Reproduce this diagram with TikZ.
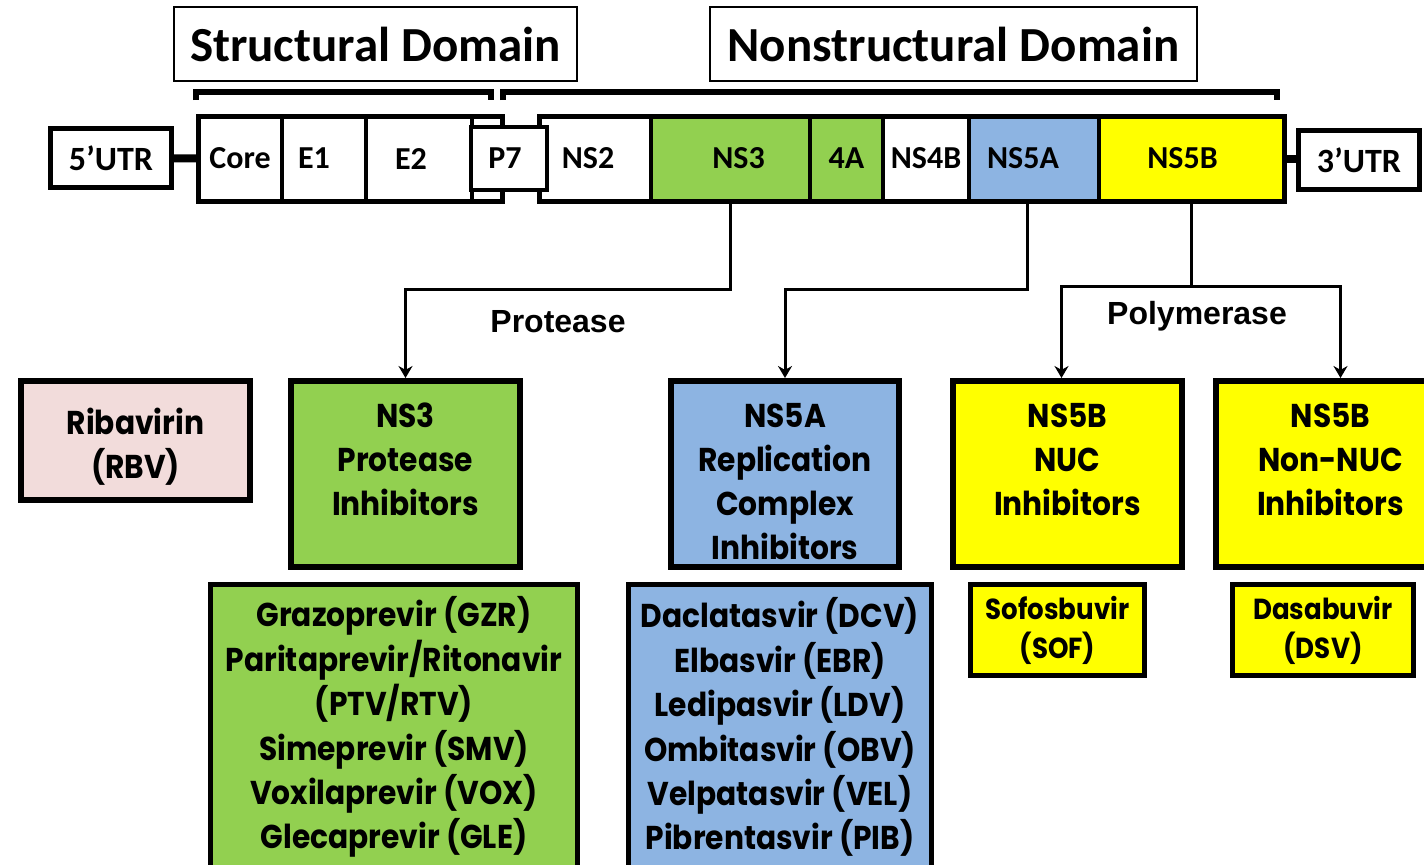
\documentclass[tikz,border=0pt]{standalone}
\usepackage{fontspec}
\setmainfont{Carlito}
\newfontfamily\drugfont[FakeStretch=0.9]{Poppins}
\newfontfamily\enzfont{Liberation Sans}
\usepackage{tikz}
\usetikzlibrary{shapes.geometric, arrows.meta, positioning}

\definecolor{nsgreen}{HTML}{92D050}
\definecolor{nsblue}{HTML}{8DB4E2}
\definecolor{nsyellow}{HTML}{FFFF00}
\definecolor{rbvpink}{HTML}{F2DCDB}

\tikzstyle{domainbox} = [rectangle, draw=black, line width=0.8pt, fill=white, inner sep=0pt, minimum height=37pt, font=\bfseries\fontsize{24.5}{28}\selectfont]
\tikzstyle{utr} = [rectangle, draw=black, line width=2.5pt, fill=white, inner sep=0pt, minimum width=60.5pt, minimum height=29.5pt, font=\bfseries\fontsize{17}{20}\selectfont]
\tikzstyle{seg} = [rectangle, draw=black, line width=2pt, fill=white, inner sep=0pt, outer sep=0pt, minimum height=42.5pt, font=\bfseries\fontsize{16}{19}\selectfont]
\tikzstyle{genome} = [rectangle, draw=black, line width=2.5pt, inner sep=0pt, outer sep=0pt, minimum height=42.5pt]
\tikzstyle{target} = [rectangle, draw=black, line width=3pt, inner sep=0pt, minimum width=114.5pt, minimum height=93pt, font=\drugfont\bfseries\fontsize{16.5}{22}\selectfont]
\tikzstyle{druglist} = [rectangle, draw=black, line width=2.5pt, inner sep=0pt, minimum height=142.75pt, align=center, font=\drugfont\bfseries\fontsize{16.5}{22.2}\selectfont]
\tikzstyle{drug} = [rectangle, draw=black, line width=2.5pt, fill=nsyellow, inner sep=0pt, minimum height=45.5pt, align=center, font=\drugfont\bfseries\fontsize{14.5}{19.5}\selectfont]
\tikzstyle{enzyme} = [font=\enzfont\bfseries\fontsize{16}{19}\selectfont]
\tikzstyle{arrow} = [line width=1.5pt,->,>={Stealth[length=6pt,width=7pt]}]
\tikzstyle{bracket} = [line width=3pt]

\newcommand{\toptext}[1]{\parbox[c][93pt][t]{112pt}{\centering\vspace*{8pt}\strut#1}}

\begin{document}
\begin{tikzpicture}[x=0.5pt, y=-0.5pt]
\useasboundingbox (0,0) rectangle (1424,864);

% domains
\node (sdom) [domainbox, minimum width=201.5pt] at (375.5,44) {Structural Domain};
\node (ndom) [domainbox, minimum width=243.5pt] at (953.5,44) {Nonstructural Domain};
\draw [bracket] (196,100) -- (196,92) -- (491,92) -- (491,100);
\draw [bracket] (503,100) -- (503,92) -- (1277,92) -- (1277,100);

% genome
\node (core) [seg, minimum width=42pt] at (240,158.5) {Core};
\node (e1) [seg, minimum width=42pt, right=0pt of core] {E1\kern10pt};
\node (e2) [seg, minimum width=53pt, right=0pt of e1] {E2\kern8pt};
\node (sblock) [genome, minimum width=152pt] at (350,158.5) {};
\node (ns2) [seg, minimum width=56pt] at (595,158.5) {NS2\kern7pt};
\node (ns3) [seg, fill=nsgreen, minimum width=79.5pt, right=0pt of ns2] {\kern8pt NS3};
\node (ns4a) [seg, fill=nsgreen, minimum width=36.5pt, right=0pt of ns3] {4A};
\node (ns4b) [seg, minimum width=43pt, right=0pt of ns4a] {NS4B};
\node (ns5a) [seg, fill=nsblue, minimum width=65pt, right=0pt of ns4b] {NS5A\kern11pt};
\node (ns5b) [seg, fill=nsyellow, minimum width=92.5pt, right=0pt of ns5a] {NS5B\kern9pt};
\node (nblock) [genome, minimum width=372.5pt] at (911.5,158.5) {};
\node (p7) [seg, minimum width=38pt, minimum height=31.5pt] at (509,158.5) {P7\kern4pt};
\node (utr5) [utr] at (111,158) {5’UTR};
\node (utr3) [utr] at (1359,160) {3’UTR};
\draw [line width=4pt] (utr5) -- (core);
\draw [line width=4pt] (ns5b.east) -- (ns5b.east -| utr3.west);

% drug classes
\node (rbv) [target, fill=rbvpink, minimum height=59.5pt] at (135.5,440.5) {\parbox[c][59.5pt][c]{112pt}{\centering\vspace*{6pt}Ribavirin\\(RBV)}};
\node (pi) [target, fill=nsgreen] at (405.5,474) {\toptext{NS3\\Protease\\Inhibitors}};
\node (ns5ai) [target, fill=nsblue, minimum width=114pt] at (785,474) {\toptext{NS5A\\Replication\\Complex\\Inhibitors}};
\node (nuc) [target, fill=nsyellow] at (1067.5,474) {\toptext{NS5B\\NUC\\Inhibitors}};
\node (nonnuc) [target, fill=nsyellow] at (1330.5,474) {\toptext{NS5B\\Non-NUC\\Inhibitors}};

% drugs
\node (pilist) [druglist, fill=nsgreen, minimum width=183.5pt] at (394,727.25) {Grazoprevir (GZR)\\Paritaprevir/Ritonavir\\(PTV/RTV)\\Simeprevir (SMV)\\Voxilaprevir (VOX)\\Glecaprevir (GLE)};
\node (nsalist) [druglist, fill=nsblue, minimum width=151.5pt] at (780,727.25) {Daclatasvir (DCV)\\Elbasvir (EBR)\\Ledipasvir (LDV)\\Ombitasvir (OBV)\\Velpatasvir (VEL)\\Pibrentasvir (PIB)};
\node (sof) [drug, minimum width=87pt] at (1057.5,630) {Sofosbuvir\\(SOF)};
\node (dsv) [drug, minimum width=90.5pt] at (1323,630) {Dasabuvir\\(DSV)};

% arrows
\draw [arrow] (ns3.south) -- ++(0,88) -| (pi.north);
\draw [arrow] ([xshift=-3.5pt]ns5a.south) -- ++(0,88) -| (ns5ai.north);
\draw [line width=1.5pt] (ns5b.south) -- ++(0,85) coordinate (fork);
\draw [arrow] (fork) -| ([xshift=-3pt]nuc.north);
\draw [arrow] (fork) -| ([xshift=5pt]nonnuc.north);
\node (prot) [enzyme] at (558,322) {Protease};
\node (poly) [enzyme] at (1197,316) {Polymerase};
\end{tikzpicture}
\end{document}
